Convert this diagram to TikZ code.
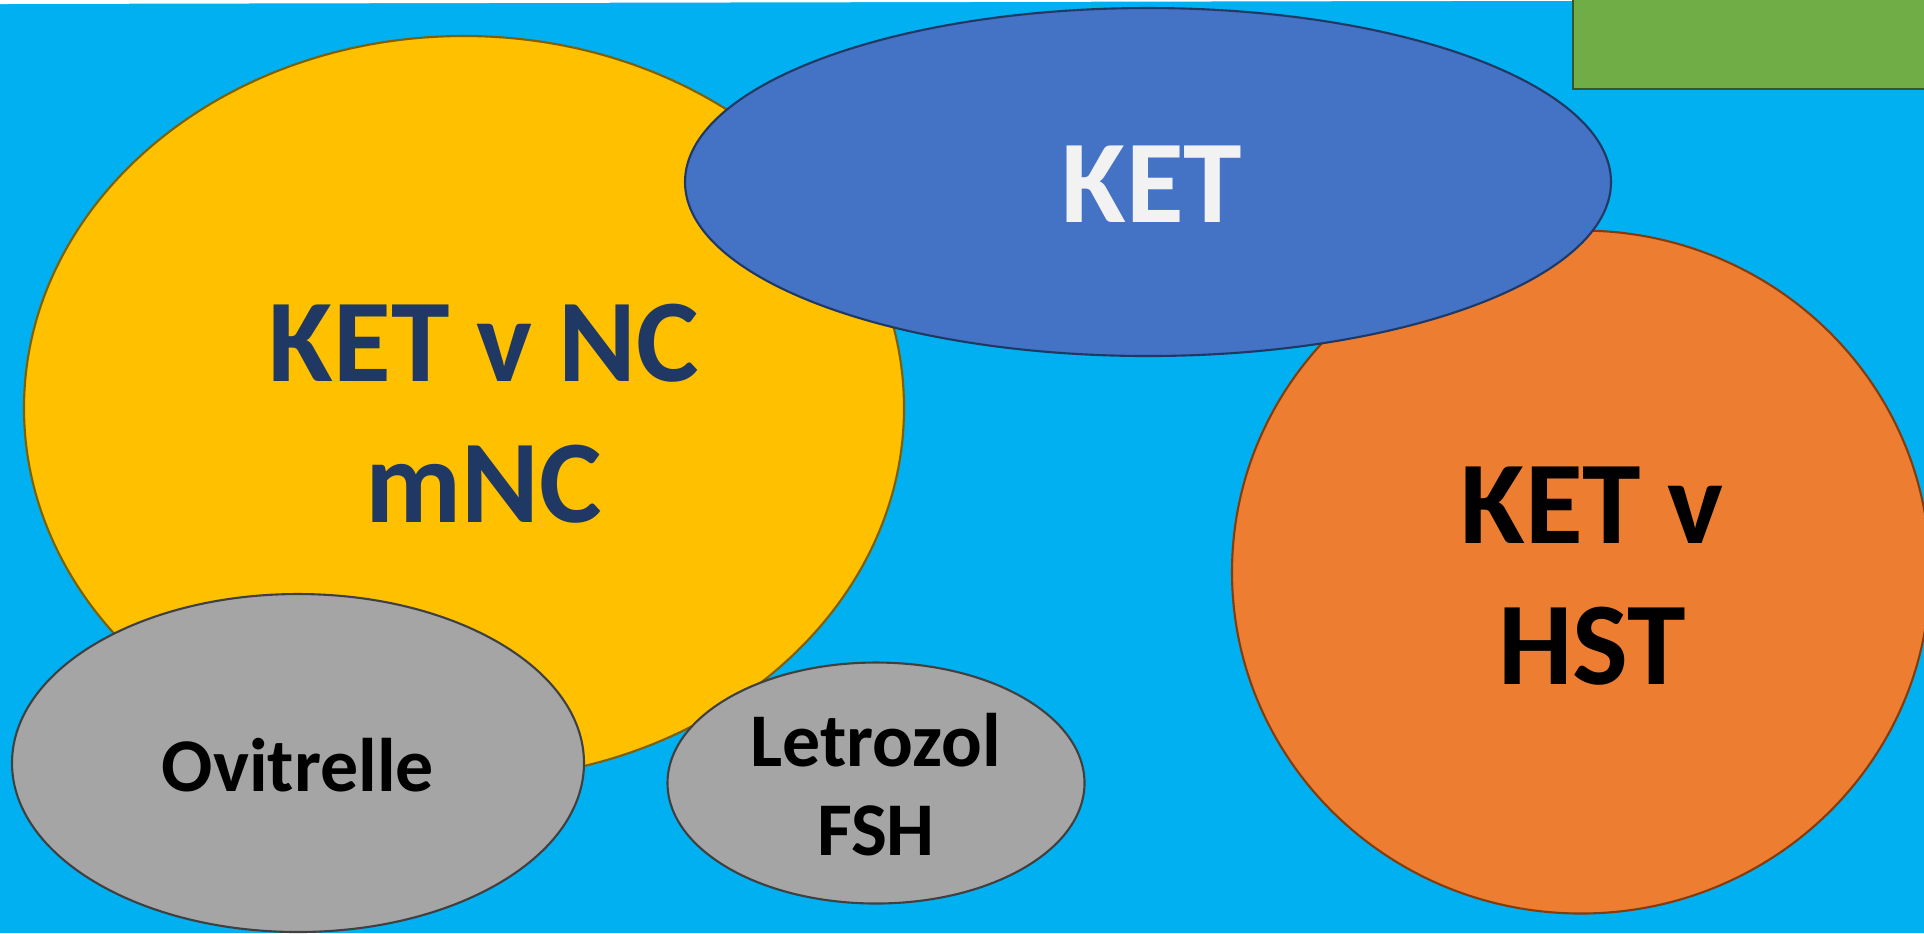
\documentclass[tikz,border=0pt]{standalone}
\usepackage{fontspec}
\setmainfont{Carlito}
\usetikzlibrary{shapes.geometric}

\definecolor{skyblue}{HTML}{00B0F0}
\definecolor{amber}{HTML}{FFC000}
\definecolor{amberline}{HTML}{7F6000}
\definecolor{royal}{HTML}{4472C4}
\definecolor{royalline}{HTML}{1F3864}
\definecolor{carrot}{HTML}{ED7D31}
\definecolor{carrotline}{HTML}{843C0C}
\definecolor{stone}{HTML}{A5A5A5}
\definecolor{stoneline}{HTML}{404040}
\definecolor{leaf}{HTML}{70AD47}
\definecolor{leafline}{HTML}{375623}
\definecolor{navytext}{HTML}{203864}

\tikzset{
  blob/.style = {ellipse, draw, line width=0.6pt, inner sep=0pt},
  bigtext/.style = {font=\fontsize{33.6pt}{40.1pt}\selectfont\bfseries,
    align=center, inner sep=0pt},
  smalltext/.style = {font=\fontsize{21.6pt}{25.3pt}\selectfont\bfseries,
    align=center, inner sep=0pt},
}

\begin{document}
\begin{tikzpicture}[x=0.1mm, y=-0.1mm]
  \useasboundingbox (0,0) rectangle (1924,933);
  \clip (0,0) rectangle (1924,933);
  \fill[skyblue] (0,0) rectangle (1924,933);
  \fill[white] (0,0) -- (1924,0) -- (0,4) -- cycle;

  % big groups
  \node[blob, fill=amber, draw=amberline,
    minimum width=88mm, minimum height=74.4mm] (nc) at (464,408) {};
  \node[blob, fill=carrot, draw=carrotline,
    minimum width=69.8mm, minimum height=68.3mm] (hst) at (1581,572) {};
  \node[blob, fill=royal, draw=royalline,
    minimum width=92.6mm, minimum height=34.8mm] (ket) at (1148,182) {};

  % grey ones
  \foreach \name/\x/\y/\w/\h in {ovi/298/763/57.2/33.8, letro/876/783/41.7/24.1} {
    \node[blob, fill=stone, draw=stoneline,
      minimum width=\w mm, minimum height=\h mm] (\name) at (\x,\y) {};
  };

  \draw[leafline, fill=leaf, line width=0.6pt] (1573,-10) rectangle (1940,89);

  \node[bigtext, text=navytext] (nclabel) at (484,414) {KET v NC\\mNC};
  \node[bigtext, text=white!95!black] (ketlabel) at (1152,184) {KET};
  \node[bigtext, text=black] (hstlabel) at (1592,576) {KET v\\HST};
  \node[smalltext, text=black] (ovilabel) at (298,765) {Ovitrelle};
  \node[smalltext, text=black] (letrolabel) at (876,785) {Letrozol\\FSH};
\end{tikzpicture}
\end{document}
